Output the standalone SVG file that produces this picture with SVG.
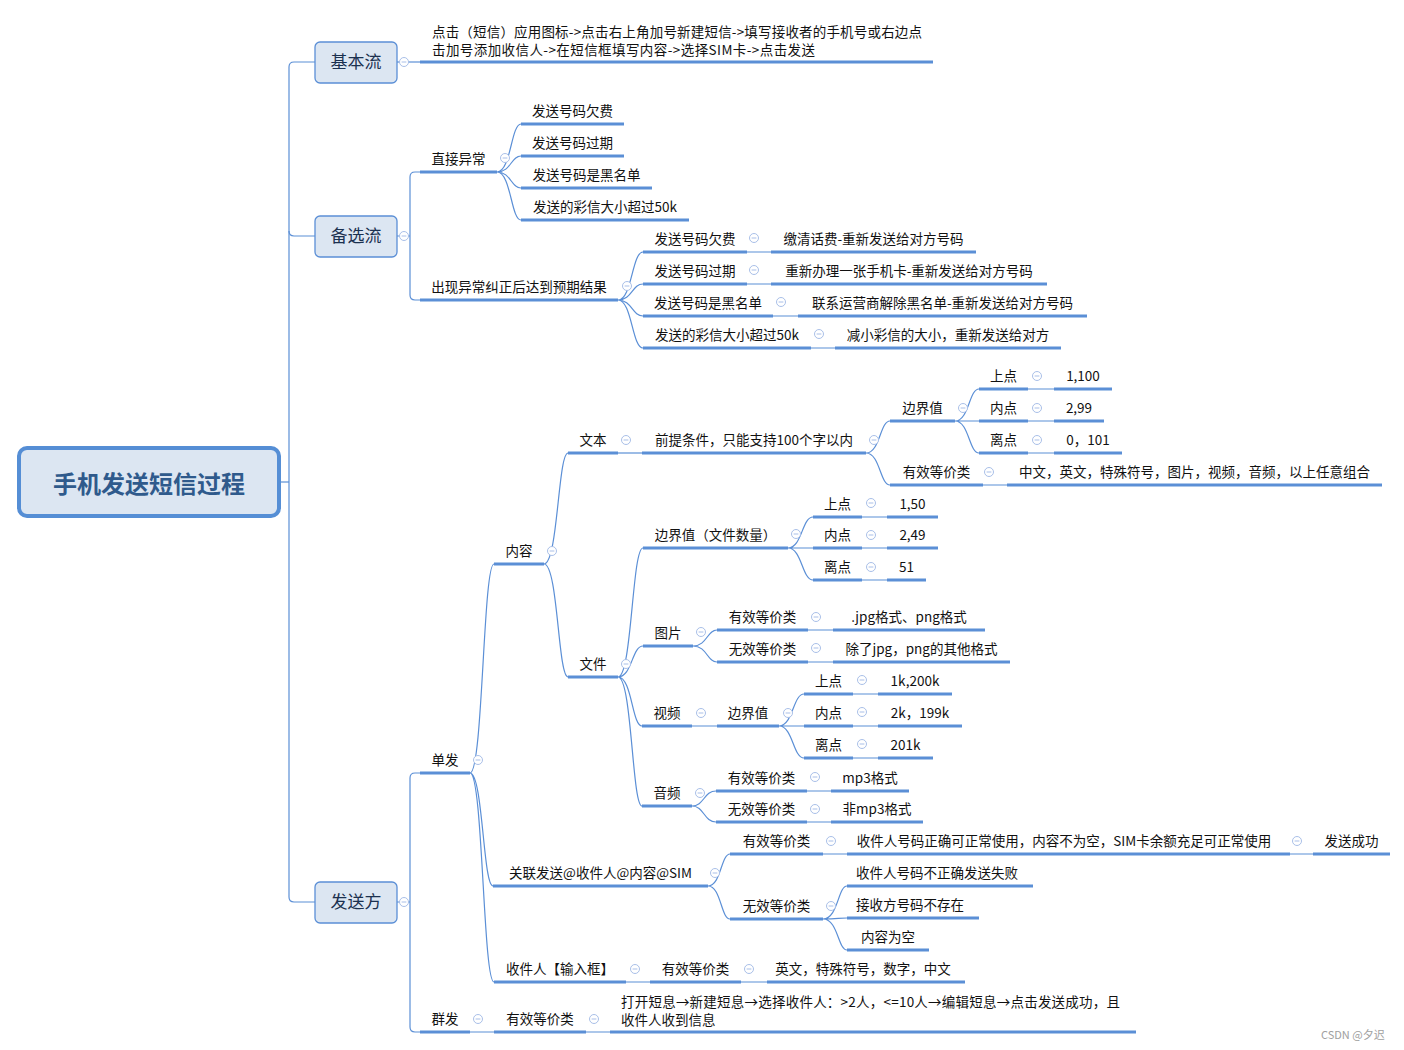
<svg xmlns="http://www.w3.org/2000/svg" xmlns:xlink="http://www.w3.org/1999/xlink" width="1404" height="1050" viewBox="0 0 1404 1050">
<style>
.u{stroke:#5b8fd6;stroke-width:3;fill:none}
.c{stroke:#5b8fd6;stroke-width:1.2;fill:none}
.t{font-family:"Noto Sans CJK SC","Microsoft YaHei",sans-serif;font-size:13.5px;fill:#111;text-anchor:middle}
.s{text-anchor:start}
.mn rect{fill:#dce6f2;stroke:#5b8fd6;stroke-width:1.3}
.mn text{font-family:"Noto Sans CJK SC","Microsoft YaHei",sans-serif;font-size:17px;fill:#1b3150;text-anchor:middle}
.col circle{fill:#fff;stroke:#a9bfe8;stroke-width:1}
.col line{stroke:#a9bfe8;stroke-width:1}
</style>
<defs>
<g id="col" class="col"><circle r="4.5"/><line x1="-2.4" y1="0" x2="2.4" y2="0"/></g>
</defs>
<rect width="1404" height="1050" fill="#fff"/>
<g id="connectors">
<path class="c" d="M281 482H289"/>
<path class="c" d="M315 62H294Q289 62 289 67V897Q289 902 294 902H315"/>
<path class="c" d="M289 231Q289 236 294 236H315"/>
<path class="c" d="M397 62H420"/>
<path class="c" d="M397 236H410M420 172H415Q410 172 410 177V295Q410 300 415 300H420"/>
<path class="c" d="M497 172C511 172 511 124 521 124M497 172C511 172 511 156 521 156M497 172C511 172 511 188 521 188M497 172C511 172 511 220 521 220"/>
<path class="c" d="M618 300C632 300 632 252 643 252M618 300C632 300 632 284 643 284M618 300C632 300 632 316 643 316M618 300C632 300 632 348 643 348"/>
<path class="c" d="M747 252H771M747 284H771M773 316H798M811 348H835"/>
<path class="c" d="M397 902H410M420 773H415Q410 773 410 778V1027Q410 1032 415 1032H420"/>
<path class="c" d="M470 773C483 773 483 564 494 564M470 773C483 773 483 886 493 886M470 773C483 773 483 982 494 982"/>
<path class="c" d="M544 564C558 564 558 453 568 453M544 564C558 564 558 677 568 677"/>
<path class="c" d="M618 453H642"/>
<path class="c" d="M866 453C880 453 880 421 890 421M866 453C880 453 880 485 890 485"/>
<path class="c" d="M955 421C969 421 969 389 979 389M955 421H979M955 421C969 421 969 453 979 453"/>
<path class="c" d="M1028 389H1054M1028 421H1054M1028 453H1054M983 485H1007"/>
<path class="c" d="M618 677C632 677 632 548 643 548M618 677C632 677 632 646 643 646M618 677C632 677 632 726 642 726M618 677C632 677 632 806 642 806"/>
<path class="c" d="M788 548C802 548 802 517 813 517M788 548H813M788 548C802 548 802 580 813 580"/>
<path class="c" d="M862 517H887M862 548H887M862 580H887"/>
<path class="c" d="M693 646C707 646 707 630 717 630M693 646C707 646 707 662 717 662M808 630H833M808 662H833"/>
<path class="c" d="M692 726H717M779 726C793 726 793 694 804 694M779 726H804M779 726C793 726 793 758 804 758"/>
<path class="c" d="M853 694H878M853 726H878M853 758H878"/>
<path class="c" d="M692 806C704 806 704 791 716 791M692 806C704 806 704 822 716 822M807 791H831M807 822H831"/>
<path class="c" d="M708 886C721 886 721 854 730 854M708 886C721 886 721 919 730 919M823 854H847M1290 854H1313"/>
<path class="c" d="M823 919C838 919 838 886 847 886M823 919C838 919 838 918 847 918M823 919C838 919 838 950 847 950"/>
<path class="c" d="M626 982H650M741 982H767"/>
<path class="c" d="M470 1032H494M586 1032H610"/>
</g>
<g id="root">
<rect x="19" y="448" width="260" height="68" rx="8" fill="#dce6f2" stroke="#558ed5" stroke-width="4"/>
<text x="149" y="492.5" font-family="Noto Sans CJK SC, Microsoft YaHei, sans-serif" font-size="24" font-weight="bold" fill="#2f5a8c" text-anchor="middle">手机发送短信过程</text>
</g>
<g id="n-basic" class="mn"><rect x="315" y="42" width="82" height="41" rx="5"/><text x="356" y="68">基本流</text><use xlink:href="#col" x="404" y="62"/></g>
<g id="n-alt" class="mn"><rect x="315" y="216" width="82" height="41" rx="5"/><text x="356" y="242">备选流</text><use xlink:href="#col" x="404" y="236"/></g>
<g id="n-sender" class="mn"><rect x="315" y="882" width="82" height="41" rx="5"/><text x="356" y="908">发送方</text><use xlink:href="#col" x="404" y="902"/></g>

<g id="n-basic-flow"><line class="u" x1="420" y1="62" x2="933" y2="62"/><text class="t s" x="432" y="36.5" textLength="490" lengthAdjust="spacing">点击（短信）应用图标-&gt;点击右上角加号新建短信-&gt;填写接收者的手机号或右边点</text><text class="t s" x="432" y="54.5" textLength="383" lengthAdjust="spacing">击加号添加收信人-&gt;在短信框填写内容-&gt;选择SIM卡-&gt;点击发送</text></g>

<g id="n-direct"><line class="u" x1="420" y1="172" x2="497" y2="172"/><text class="t" x="458.5" y="164">直接异常</text><use xlink:href="#col" x="505" y="158"/></g>
<g id="n-d1"><line class="u" x1="521" y1="124" x2="624" y2="124"/><text class="t" x="572.5" y="116">发送号码欠费</text></g>
<g id="n-d2"><line class="u" x1="521" y1="156" x2="624" y2="156"/><text class="t" x="572.5" y="148">发送号码过期</text></g>
<g id="n-d3"><line class="u" x1="521" y1="188" x2="652" y2="188"/><text class="t" x="586.5" y="180">发送号码是黑名单</text></g>
<g id="n-d4"><line class="u" x1="521" y1="220" x2="689" y2="220"/><text class="t" x="605" y="212">发送的彩信大小超过50k</text></g>

<g id="n-fix"><line class="u" x1="420" y1="300" x2="618" y2="300"/><text class="t" x="519" y="292">出现异常纠正后达到预期结果</text><use xlink:href="#col" x="627" y="286"/></g>
<g id="n-f1"><line class="u" x1="643" y1="252" x2="747" y2="252"/><text class="t" x="695" y="244">发送号码欠费</text><use xlink:href="#col" x="754" y="238"/></g>
<g id="n-f1a"><line class="u" x1="771" y1="252" x2="976" y2="252"/><text class="t" x="873.5" y="244">缴清话费-重新发送给对方号码</text></g>
<g id="n-f2"><line class="u" x1="643" y1="284" x2="747" y2="284"/><text class="t" x="695" y="276">发送号码过期</text><use xlink:href="#col" x="754" y="270"/></g>
<g id="n-f2a"><line class="u" x1="771" y1="284" x2="1047" y2="284"/><text class="t" x="909" y="276">重新办理一张手机卡-重新发送给对方号码</text></g>
<g id="n-f3"><line class="u" x1="643" y1="316" x2="773" y2="316"/><text class="t" x="708" y="308">发送号码是黑名单</text><use xlink:href="#col" x="781" y="302"/></g>
<g id="n-f3a"><line class="u" x1="798" y1="316" x2="1087" y2="316"/><text class="t" x="942.5" y="308">联系运营商解除黑名单-重新发送给对方号码</text></g>
<g id="n-f4"><line class="u" x1="643" y1="348" x2="811" y2="348"/><text class="t" x="727" y="340">发送的彩信大小超过50k</text><use xlink:href="#col" x="819" y="334"/></g>
<g id="n-f4a"><line class="u" x1="835" y1="348" x2="1061" y2="348"/><text class="t" x="948" y="340">减小彩信的大小，重新发送给对方</text></g>

<g id="n-single"><line class="u" x1="420" y1="773" x2="470" y2="773"/><text class="t" x="445" y="765">单发</text><use xlink:href="#col" x="478" y="760"/></g>
<g id="n-content"><line class="u" x1="494" y1="564" x2="544" y2="564"/><text class="t" x="519" y="556">内容</text><use xlink:href="#col" x="552" y="551"/></g>
<g id="n-text"><line class="u" x1="568" y1="453" x2="618" y2="453"/><text class="t" x="593" y="445">文本</text><use xlink:href="#col" x="626" y="440"/></g>
<g id="n-pre"><line class="u" x1="642" y1="453" x2="866" y2="453"/><text class="t" x="754" y="445">前提条件，只能支持100个字以内</text><use xlink:href="#col" x="874" y="440"/></g>
<g id="n-tb"><line class="u" x1="890" y1="421" x2="955" y2="421"/><text class="t" x="922.5" y="413">边界值</text><use xlink:href="#col" x="963" y="408"/></g>
<g id="n-tb1"><line class="u" x1="979" y1="389" x2="1028" y2="389"/><text class="t" x="1003.5" y="381">上点</text><use xlink:href="#col" x="1037" y="376"/></g>
<g id="n-tb1v"><line class="u" x1="1054" y1="389" x2="1112" y2="389"/><text class="t" x="1083" y="381">1,100</text></g>
<g id="n-tb2"><line class="u" x1="979" y1="421" x2="1028" y2="421"/><text class="t" x="1003.5" y="413">内点</text><use xlink:href="#col" x="1037" y="408"/></g>
<g id="n-tb2v"><line class="u" x1="1054" y1="421" x2="1104" y2="421"/><text class="t" x="1079" y="413">2,99</text></g>
<g id="n-tb3"><line class="u" x1="979" y1="453" x2="1028" y2="453"/><text class="t" x="1003.5" y="445">离点</text><use xlink:href="#col" x="1037" y="440"/></g>
<g id="n-tb3v"><line class="u" x1="1054" y1="453" x2="1122" y2="453"/><text class="t" x="1088" y="445">0，101</text></g>
<g id="n-tv"><line class="u" x1="890" y1="485" x2="983" y2="485"/><text class="t" x="936.5" y="477">有效等价类</text><use xlink:href="#col" x="989" y="472"/></g>
<g id="n-tvv"><line class="u" x1="1007" y1="485" x2="1382" y2="485"/><text class="t" x="1194.5" y="477">中文，英文，特殊符号，图片，视频，音频，以上任意组合</text></g>

<g id="n-file"><line class="u" x1="568" y1="677" x2="618" y2="677"/><text class="t" x="593" y="669">文件</text><use xlink:href="#col" x="626" y="664"/></g>
<g id="n-fb"><line class="u" x1="643" y1="548" x2="788" y2="548"/><text class="t" x="715.5" y="540">边界值（文件数量）</text><use xlink:href="#col" x="796" y="534"/></g>
<g id="n-fb1"><line class="u" x1="813" y1="517" x2="862" y2="517"/><text class="t" x="837.5" y="509">上点</text><use xlink:href="#col" x="871" y="503"/></g>
<g id="n-fb1v"><line class="u" x1="887" y1="517" x2="938" y2="517"/><text class="t" x="912.5" y="509">1,50</text></g>
<g id="n-fb2"><line class="u" x1="813" y1="548" x2="862" y2="548"/><text class="t" x="837.5" y="540">内点</text><use xlink:href="#col" x="871" y="535"/></g>
<g id="n-fb2v"><line class="u" x1="887" y1="548" x2="938" y2="548"/><text class="t" x="912.5" y="540">2,49</text></g>
<g id="n-fb3"><line class="u" x1="813" y1="580" x2="862" y2="580"/><text class="t" x="837.5" y="572">离点</text><use xlink:href="#col" x="871" y="567"/></g>
<g id="n-fb3v"><line class="u" x1="887" y1="580" x2="926" y2="580"/><text class="t" x="906.5" y="572">51</text></g>
<g id="n-img"><line class="u" x1="643" y1="646" x2="693" y2="646"/><text class="t" x="668" y="638">图片</text><use xlink:href="#col" x="701" y="632"/></g>
<g id="n-img1"><line class="u" x1="717" y1="630" x2="808" y2="630"/><text class="t" x="762.5" y="622">有效等价类</text><use xlink:href="#col" x="816" y="617"/></g>
<g id="n-img1v"><line class="u" x1="833" y1="630" x2="985" y2="630"/><text class="t" x="909" y="622">.jpg格式、png格式</text></g>
<g id="n-img2"><line class="u" x1="717" y1="662" x2="808" y2="662"/><text class="t" x="762.5" y="654">无效等价类</text><use xlink:href="#col" x="816" y="648"/></g>
<g id="n-img2v"><line class="u" x1="833" y1="662" x2="1010" y2="662"/><text class="t" x="921.5" y="654">除了jpg，png的其他格式</text></g>
<g id="n-video"><line class="u" x1="642" y1="726" x2="692" y2="726"/><text class="t" x="667" y="718">视频</text><use xlink:href="#col" x="701" y="713"/></g>
<g id="n-vb"><line class="u" x1="717" y1="726" x2="779" y2="726"/><text class="t" x="748" y="718">边界值</text><use xlink:href="#col" x="788" y="713"/></g>
<g id="n-vb1"><line class="u" x1="804" y1="694" x2="853" y2="694"/><text class="t" x="828.5" y="686">上点</text><use xlink:href="#col" x="862" y="680"/></g>
<g id="n-vb1v"><line class="u" x1="878" y1="694" x2="952" y2="694"/><text class="t" x="915" y="686">1k,200k</text></g>
<g id="n-vb2"><line class="u" x1="804" y1="726" x2="853" y2="726"/><text class="t" x="828.5" y="718">内点</text><use xlink:href="#col" x="862" y="712"/></g>
<g id="n-vb2v"><line class="u" x1="878" y1="726" x2="962" y2="726"/><text class="t" x="920" y="718">2k，199k</text></g>
<g id="n-vb3"><line class="u" x1="804" y1="758" x2="853" y2="758"/><text class="t" x="828.5" y="750">离点</text><use xlink:href="#col" x="862" y="744"/></g>
<g id="n-vb3v"><line class="u" x1="878" y1="758" x2="933" y2="758"/><text class="t" x="905.5" y="750">201k</text></g>
<g id="n-audio"><line class="u" x1="642" y1="806" x2="692" y2="806"/><text class="t" x="667" y="798">音频</text><use xlink:href="#col" x="700" y="793"/></g>
<g id="n-au1"><line class="u" x1="716" y1="791" x2="807" y2="791"/><text class="t" x="761.5" y="783">有效等价类</text><use xlink:href="#col" x="815" y="777"/></g>
<g id="n-au1v"><line class="u" x1="831" y1="791" x2="909" y2="791"/><text class="t" x="870" y="783">mp3格式</text></g>
<g id="n-au2"><line class="u" x1="716" y1="822" x2="807" y2="822"/><text class="t" x="761.5" y="814">无效等价类</text><use xlink:href="#col" x="815" y="809"/></g>
<g id="n-au2v"><line class="u" x1="831" y1="822" x2="923" y2="822"/><text class="t" x="877" y="814">非mp3格式</text></g>

<g id="n-link"><line class="u" x1="493" y1="886" x2="708" y2="886"/><text class="t" x="600.5" y="878">关联发送@收件人@内容@SIM</text><use xlink:href="#col" x="715" y="873"/></g>
<g id="n-lv"><line class="u" x1="730" y1="854" x2="823" y2="854"/><text class="t" x="776.5" y="846">有效等价类</text><use xlink:href="#col" x="831" y="841"/></g>
<g id="n-lvv"><line class="u" x1="847" y1="854" x2="1290" y2="854"/><text class="t" x="1064" y="846">收件人号码正确可正常使用，内容不为空，SIM卡余额充足可正常使用</text><use xlink:href="#col" x="1297" y="841"/></g>
<g id="n-ok"><line class="u" x1="1313" y1="854" x2="1390" y2="854"/><text class="t" x="1351.5" y="846">发送成功</text></g>
<g id="n-li"><line class="u" x1="730" y1="919" x2="823" y2="919"/><text class="t" x="776.5" y="911">无效等价类</text><use xlink:href="#col" x="831" y="906"/></g>
<g id="n-li1"><line class="u" x1="847" y1="886" x2="1033" y2="886"/><text class="t" x="937" y="878">收件人号码不正确发送失败</text></g>
<g id="n-li2"><line class="u" x1="847" y1="918" x2="979" y2="918"/><text class="t" x="910" y="910">接收方号码不存在</text></g>
<g id="n-li3"><line class="u" x1="847" y1="950" x2="929" y2="950"/><text class="t" x="888" y="942">内容为空</text></g>

<g id="n-recv"><line class="u" x1="494" y1="982" x2="626" y2="982"/><text class="t" x="560" y="974">收件人【输入框】</text><use xlink:href="#col" x="635" y="969"/></g>
<g id="n-recv1"><line class="u" x1="650" y1="982" x2="741" y2="982"/><text class="t" x="695.5" y="974">有效等价类</text><use xlink:href="#col" x="749" y="969"/></g>
<g id="n-recv1v"><line class="u" x1="767" y1="982" x2="965" y2="982"/><text class="t" x="863" y="974">英文，特殊符号，数字，中文</text></g>

<g id="n-group"><line class="u" x1="420" y1="1032" x2="470" y2="1032"/><text class="t" x="445" y="1024">群发</text><use xlink:href="#col" x="478" y="1019"/></g>
<g id="n-group1"><line class="u" x1="494" y1="1032" x2="586" y2="1032"/><text class="t" x="540" y="1024">有效等价类</text><use xlink:href="#col" x="594" y="1019"/></g>
<g id="n-group1v"><line class="u" x1="610" y1="1032" x2="1136" y2="1032"/><text class="t s" x="621" y="1006.5" textLength="499" lengthAdjust="spacing">打开短息→新建短息→选择收件人：&gt;2人，&lt;=10人→编辑短息→点击发送成功，且</text><text class="t s" x="621" y="1024.5">收件人收到信息</text></g>

<text x="1321" y="1039" font-family="Noto Sans CJK SC, Microsoft YaHei, sans-serif" font-size="11" fill="#a0a0a0">CSDN @夕迟</text>
</svg>
